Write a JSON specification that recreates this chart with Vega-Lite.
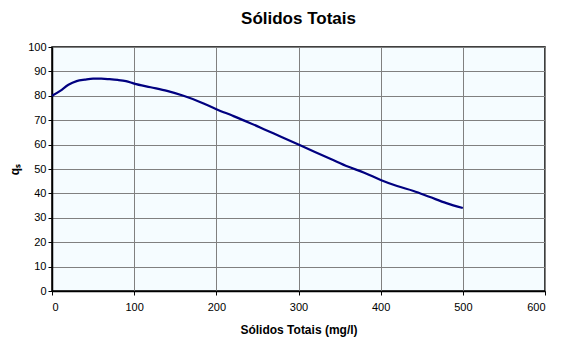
{
  "$schema": "https://vega.github.io/schema/vega-lite/v6.json",
  "width": 493,
  "height": 244,
  "autosize": {"type": "none"},
  "padding": {"left": 52, "top": 47, "right": 26, "bottom": 69},
  "background": "white",
  "title": {"text": "Sólidos Totais", "font": "Liberation Sans", "fontSize": 17, "fontWeight": "bold", "color": "#000000", "offset": 13},
  "config": {
    "view": {"fill": "#F5FCFF", "stroke": "#000000", "strokeWidth": 1.5},
    "axis": {"labelFont": "Liberation Sans", "labelFontSize": 11, "labelColor": "#000000", "titleFont": "Liberation Sans", "titleFontSize": 12, "titleFontWeight": "bold", "titleColor": "#000000", "domainColor": "#000000", "domainWidth": 1.5, "tickColor": "#000000", "tickSize": 4, "gridColor": "#808080", "gridWidth": 1, "gridOpacity": 1}
  },
  "data": {"values": [
    {"x": 0, "y": 80}, {"x": 10, "y": 82}, {"x": 20, "y": 84.5}, {"x": 30, "y": 86}, {"x": 40, "y": 86.6},
    {"x": 50, "y": 87}, {"x": 60, "y": 87}, {"x": 70, "y": 86.8}, {"x": 80, "y": 86.5}, {"x": 90, "y": 86},
    {"x": 100, "y": 85}, {"x": 120, "y": 83.5}, {"x": 140, "y": 82}, {"x": 160, "y": 80}, {"x": 180, "y": 77.5},
    {"x": 200, "y": 74.5}, {"x": 220, "y": 71.8}, {"x": 240, "y": 69}, {"x": 260, "y": 66}, {"x": 280, "y": 63},
    {"x": 300, "y": 60}, {"x": 320, "y": 57}, {"x": 340, "y": 54}, {"x": 360, "y": 51},
    {"x": 380, "y": 48.5}, {"x": 400, "y": 45.5}, {"x": 420, "y": 43}, {"x": 440, "y": 41}, {"x": 460, "y": 38.5},
    {"x": 480, "y": 36}, {"x": 500, "y": 34}
  ]},
  "mark": {"type": "line", "color": "#000080", "strokeWidth": 2.2, "interpolate": "monotone"},
  "encoding": {
    "x": {"field": "x", "type": "quantitative", "scale": {"domain": [0, 600], "nice": false}, "axis": {"values": [0, 100, 200, 300, 400, 500, 600], "title": "Sólidos Totais (mg/l)", "labelPadding": 6, "titlePadding": 12}},
    "y": {"field": "y", "type": "quantitative", "scale": {"domain": [0, 100], "nice": false}, "axis": {"values": [0, 10, 20, 30, 40, 50, 60, 70, 80, 90, 100], "title": "qₛ", "titlePadding": 6}}
  }
}
